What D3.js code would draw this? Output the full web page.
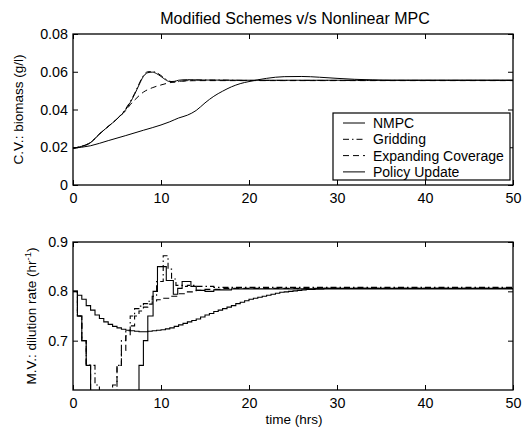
<!DOCTYPE html>
<html>
<head>
<meta charset="utf-8">
<script src="https://cdn.jsdelivr.net/npm/d3@7"></script>
<style>
  body { margin: 0; background: #fff; }
  text { font-family: "Liberation Sans", Arial, sans-serif; fill: #000; }
</style>
</head>
<body>
<div id="chart"></div>
<script>

// ---- data ----
var timeTicks = [0, 10, 20, 30, 40, 50];
var cvTicks = [0, 0.02, 0.04, 0.06, 0.08];
var mvTicks = [0.7, 0.8, 0.9];
var seriesNames = ["NMPC", "Gridding", "Expanding Coverage", "Policy Update"];

// controlled variable: biomass (g/l)  [time, value]
var cvNmpc = [[0,0.0195],[1,0.0205],[2,0.0225],[3,0.027],[4,0.031],[5,0.035],[6,0.040],[7,0.048],[7.5,0.053],[8,0.0575],[8.5,0.0595],[9,0.0598],[9.5,0.059],[10,0.0575],[10.5,0.0558],[11,0.0548],[11.5,0.0549],[12,0.0555],[13,0.0558],[14,0.0557],[15,0.0556],[20,0.0555],[50,0.0555]];
var cvGridding = [[0,0.0195],[1,0.0205],[2,0.0225],[3,0.027],[4,0.031],[5,0.035],[6,0.0405],[7,0.0485],[7.5,0.0535],[8,0.058],[8.5,0.060],[9,0.0601],[9.5,0.0595],[10,0.058],[10.5,0.0562],[11,0.055],[11.5,0.0545],[12,0.0548],[13,0.0553],[14,0.0556],[16,0.0556],[20,0.0554],[50,0.0554]];
var cvExpanding = [[0,0.0195],[1,0.0205],[2,0.0225],[3,0.027],[4,0.031],[5,0.035],[6,0.0395],[6.5,0.0425],[7,0.045],[8,0.0492],[9,0.0515],[10,0.053],[11,0.0542],[12,0.0549],[13,0.0552],[15,0.0553],[50,0.0553]];
var cvPolicy = [[0,0.0195],[2,0.0208],[4,0.0235],[6,0.0262],[8,0.029],[10,0.0318],[11,0.0335],[12,0.0355],[13,0.037],[14,0.0395],[15,0.0435],[16,0.047],[17,0.0497],[18,0.052],[19,0.0537],[20,0.0548],[22,0.0565],[24,0.0574],[26,0.0575],[28,0.0571],[30,0.0565],[32,0.056],[34,0.0557],[36,0.0555],[50,0.0555]];

// manipulated variable: dilution rate (1/hr), piecewise constant  [time, value]
var mvNmpc = [[0,0.80],[0.5,0.75],[1,0.70],[1.5,0.65],[2,0.50],[7.5,0.65],[8,0.70],[8.5,0.75],[9.1,0.80],[9.6,0.85],[10.6,0.822],[11.4,0.794],[11.9,0.806],[12.4,0.82],[13.4,0.81],[14,0.802],[15,0.80],[16,0.803],[18,0.805],[50,0.805]];
var mvGridding = [[0,0.80],[0.5,0.75],[1,0.70],[1.5,0.65],[2.5,0.61],[3,0.57],[4.5,0.59],[5,0.65],[5.5,0.70],[6,0.72],[6.5,0.75],[7,0.765],[7.5,0.77],[8,0.775],[8.5,0.78],[9,0.79],[9.5,0.82],[10.25,0.872],[10.8,0.845],[11.2,0.825],[11.7,0.812],[12.5,0.81],[13,0.812],[14,0.81],[16,0.808],[50,0.808]];
var mvExpanding = [[0,0.80],[0.5,0.75],[1,0.70],[1.5,0.65],[2,0.55],[4.5,0.61],[5,0.65],[5.5,0.68],[6,0.71],[6.5,0.73],[7,0.75],[7.5,0.76],[8,0.768],[8.5,0.774],[9,0.779],[9.5,0.783],[10,0.786],[11,0.79],[12,0.795],[13,0.799],[14,0.802],[15,0.804],[17,0.806],[50,0.806]];
var mvPolicy = [[0,0.800],[0.5,0.792],[1,0.784],[1.5,0.771],[2,0.762],[2.5,0.752],[3,0.745],[3.5,0.738],[4,0.733],[4.5,0.729],[5,0.726],[5.5,0.723],[6,0.721],[6.5,0.720],[7,0.719],[7.5,0.718],[8,0.718],[8.5,0.719],[9,0.720],[9.5,0.721],[10,0.722],[10.5,0.724],[11,0.726],[11.5,0.729],[12,0.732],[12.5,0.735],[13,0.738],[13.5,0.741],[14,0.744],[14.5,0.748],[15,0.752],[15.5,0.755],[16,0.759],[16.5,0.762],[17,0.765],[17.5,0.768],[18,0.771],[18.5,0.775],[19,0.778],[19.5,0.781],[20,0.784],[20.5,0.786],[21,0.788],[21.5,0.790],[22,0.792],[22.5,0.794],[23,0.796],[23.5,0.798],[24,0.799],[24.5,0.800],[25,0.801],[25.5,0.802],[26,0.803],[26.5,0.804],[27,0.804],[27.5,0.805],[28,0.805],[28.5,0.806],[29,0.806],[29.5,0.806],[30,0.806],[50,0.806]];

// ---- layout ----
var width = 531, height = 428;
var plotLeft = 73, plotRight = 513;
var top1 = 34, bottom1 = 185;
var top2 = 242, bottom2 = 390;
var tickLen = 5;

var dashSolid = null,
    dashDot = "6,3,1.5,3",
    dashed = "6,4";
var styles = [dashSolid, dashDot, dashed, dashSolid];

var svg = d3.select("#chart").append("svg")
    .attr("width", width)
    .attr("height", height);

var xScale = d3.scaleLinear().domain([0, 50]).range([plotLeft, plotRight]);
var yTop = d3.scaleLinear().domain([0, 0.08]).range([bottom1, top1]);
var yBot = d3.scaleLinear().domain([0.6, 0.9]).range([bottom2, top2]);

// clip paths
var defs = svg.append("defs");
defs.append("clipPath").attr("id", "clip1").append("rect")
    .attr("x", plotLeft).attr("y", top1).attr("width", plotRight - plotLeft).attr("height", bottom1 - top1);
defs.append("clipPath").attr("id", "clip2").append("rect")
    .attr("x", plotLeft).attr("y", top2).attr("width", plotRight - plotLeft).attr("height", bottom2 - top2);

function drawAxes(yScale, yTicks, yFmt, top, bottom) {
    var g = svg.append("g");

    g.append("g")
        .attr("transform", "translate(0," + bottom + ")")
        .call(d3.axisBottom(xScale).tickValues(timeTicks).tickSizeInner(-tickLen).tickSizeOuter(0).tickPadding(8))
        .call(styleAxis);
    g.append("g")
        .attr("transform", "translate(0," + top + ")")
        .call(d3.axisTop(xScale).tickValues(timeTicks).tickSizeInner(-tickLen).tickSizeOuter(0).tickFormat(""))
        .call(styleAxis);
    g.append("g")
        .attr("transform", "translate(" + plotLeft + ",0)")
        .call(d3.axisLeft(yScale).tickValues(yTicks).tickSizeInner(-tickLen).tickSizeOuter(0).tickPadding(5).tickFormat(yFmt))
        .call(styleAxis);
    g.append("g")
        .attr("transform", "translate(" + plotRight + ",0)")
        .call(d3.axisRight(yScale).tickValues(yTicks).tickSizeInner(-tickLen).tickSizeOuter(0).tickFormat(""))
        .call(styleAxis);

    // box
    g.append("rect")
        .attr("x", plotLeft).attr("y", top)
        .attr("width", plotRight - plotLeft).attr("height", bottom - top)
        .style("fill", "none").style("stroke", "#000").style("stroke-width", "1.3px");
}

function styleAxis(sel) {
    sel.select(".domain").remove();
    sel.selectAll(".tick line").style("stroke", "#000").style("stroke-width", "1px");
    sel.selectAll(".tick text").style("font-size", "14.3px").style("font-family", "Liberation Sans, Arial, sans-serif");
}

drawAxes(yTop, cvTicks, function(d) { return d === 0 ? "0" : d3.format(".2f")(d); }, top1, bottom1);
drawAxes(yBot, mvTicks, d3.format(".1f"), top2, bottom2);

// ---- lines ----
var lineTop = d3.line()
    .x(function(d) { return xScale(d[0]); })
    .y(function(d) { return yTop(d[1]); })
    .curve(d3.curveMonotoneX);

var lineBot = d3.line()
    .x(function(d) { return xScale(d[0]); })
    .y(function(d) { return yBot(d[1]); })
    .curve(d3.curveStepAfter);

var topSeries = [cvNmpc, cvGridding, cvExpanding, cvPolicy];
var botSeries = [mvNmpc, mvGridding, mvExpanding, mvPolicy];

svg.append("g").attr("clip-path", "url(#clip1)")
    .selectAll("path")
    .data(topSeries)
    .enter()
    .append("path")
    .attr("d", lineTop)
    .style("fill", "none")
    .style("stroke", "#000")
    .style("stroke-width", "1px")
    .style("stroke-dasharray", function(d, i) { return styles[i]; });

svg.append("g").attr("clip-path", "url(#clip2)")
    .selectAll("path")
    .data(botSeries)
    .enter()
    .append("path")
    .attr("d", lineBot)
    .style("fill", "none")
    .style("stroke", "#000")
    .style("stroke-width", "1.1px")
    .style("stroke-dasharray", function(d, i) { return styles[i]; });

// ---- legend ----
var legend = svg.append("g");
legend.append("rect")
    .attr("x", 333).attr("y", 113)
    .attr("width", 177).attr("height", 67)
    .style("fill", "#fff").style("stroke", "#000").style("stroke-width", "1.2px");

var items = legend.selectAll("g.item")
    .data(seriesNames)
    .enter()
    .append("g")
    .attr("class", "item")
    .attr("transform", function(d, i) { return "translate(0," + (123 + i * 16.3) + ")"; });

items.append("line")
    .attr("x1", 343).attr("x2", 365)
    .attr("y1", 0).attr("y2", 0)
    .style("stroke", "#000")
    .style("stroke-width", "1px")
    .style("stroke-dasharray", function(d, i) { return styles[i]; });

items.append("text")
    .attr("x", 373)
    .attr("y", 5)
    .style("font-size", "14px")
    .text(function(d) { return d; });

// ---- titles and labels ----
svg.append("text")
    .attr("x", 295).attr("y", 24)
    .attr("text-anchor", "middle")
    .style("font-size", "16px")
    .text("Modified Schemes v/s Nonlinear MPC");

svg.append("text")
    .attr("transform", "translate(23," + ((top1 + bottom1) / 2) + ")rotate(-90)")
    .attr("text-anchor", "middle")
    .style("font-size", "13.5px")
    .text("C.V.: biomass (g/l)");

var mvLabel = svg.append("text")
    .attr("transform", "translate(36," + ((top2 + bottom2) / 2) + ")rotate(-90)")
    .attr("text-anchor", "middle")
    .style("font-size", "13.5px");
mvLabel.append("tspan").text("M.V.: dilution rate (hr");
mvLabel.append("tspan").attr("dy", -5).style("font-size", "9.5px").text("-1");
mvLabel.append("tspan").attr("dy", 5).text(")");

svg.append("text")
    .attr("x", 294).attr("y", 424)
    .attr("text-anchor", "middle")
    .style("font-size", "13.5px")
    .text("time (hrs)");

</script>
</body>
</html>
